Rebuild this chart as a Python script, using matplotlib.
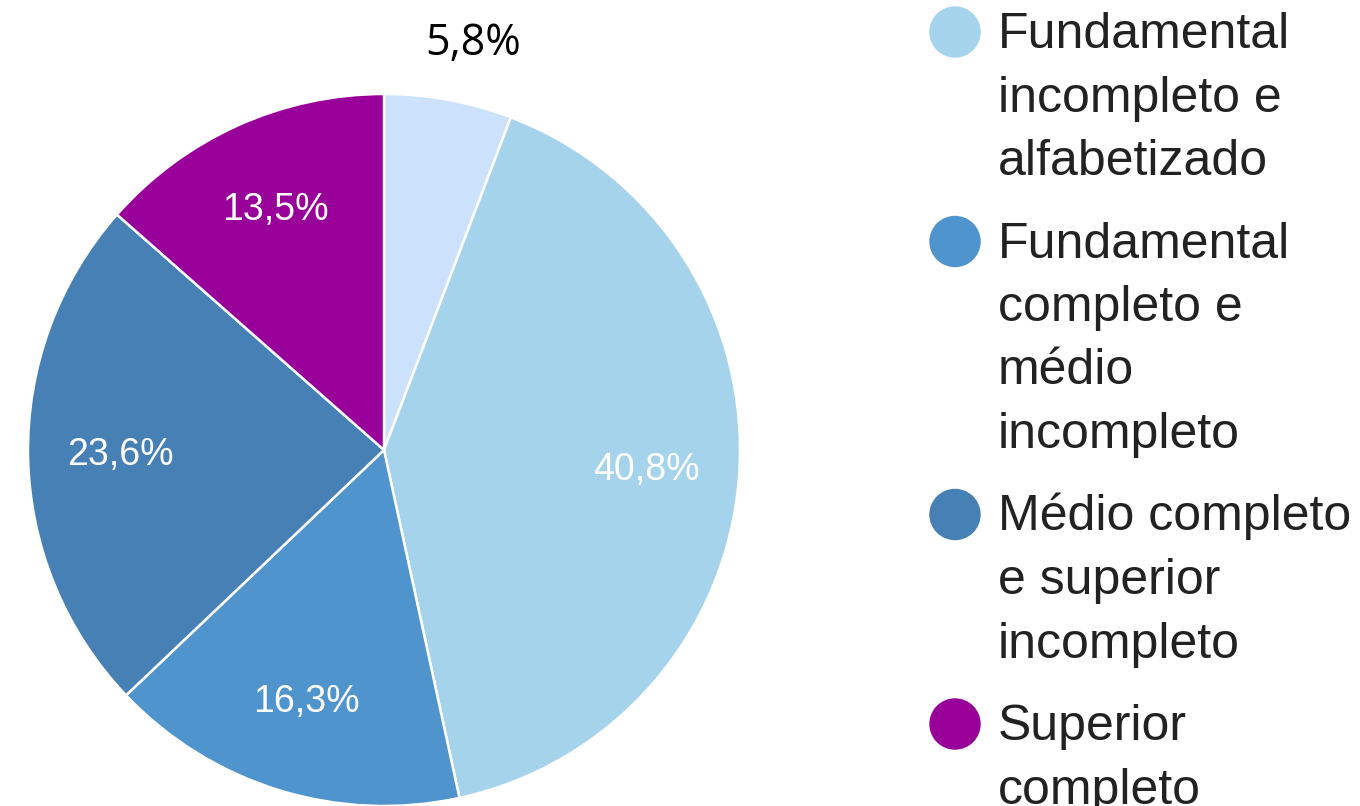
import matplotlib.pyplot as plt
from matplotlib.patches import Circle

# dados da pizza (ordem horaria a partir do topo)
valores = [5.8, 40.8, 16.3, 23.6, 13.5]
cores = ['#cce1fb', '#a6d3ec', '#4f94cd', '#4680b4', '#990099']

legenda = ['Fundamental\nincompleto e\nalfabetizado',
           'Fundamental\ncompleto e\nmédio\nincompleto',
           'Médio completo\ne superior\nincompleto',
           'Superior\ncompleto']
cores_legenda = cores[1:]

W, H = 1360, 806
fig = plt.figure(figsize=(W / 100, H / 100), dpi=100)
ax = fig.add_axes([0, 0, 1, 1])

wedges, textos, autotextos = ax.pie(
    valores, colors=cores, startangle=90, counterclock=False,
    center=(384, H - 450), radius=356, pctdistance=0.74,
    autopct=lambda p: f"{p:.1f}%".replace('.', ','),
    wedgeprops=dict(edgecolor='white', linewidth=1.8),
    textprops=dict(color='white', fontsize=27, family='Liberation Sans'))

# rotulo da fatia pequena fica fora, acima
autotextos[0].set_position((473, H - 44))
autotextos[0].set_color('black')
autotextos[0].set_fontfamily('Open Sans')
autotextos[0].set_fontsize(31)

# legenda manual
y = 48
for lab, c in zip(legenda, cores_legenda):
    ax.add_patch(Circle((955, H - (y - 16)), 25, color=c))
    for linha in lab.split('\n'):
        ax.text(998, H - y, linha, fontsize=36, family='Liberation Sans',
                color='#222222', va='baseline', ha='left')
        y += 63.5
    y += 19

ax.set_xlim(0, W)
ax.set_ylim(0, H)
ax.set_aspect('equal')
ax.axis('off')

fig.savefig('out.png', dpi=100)
